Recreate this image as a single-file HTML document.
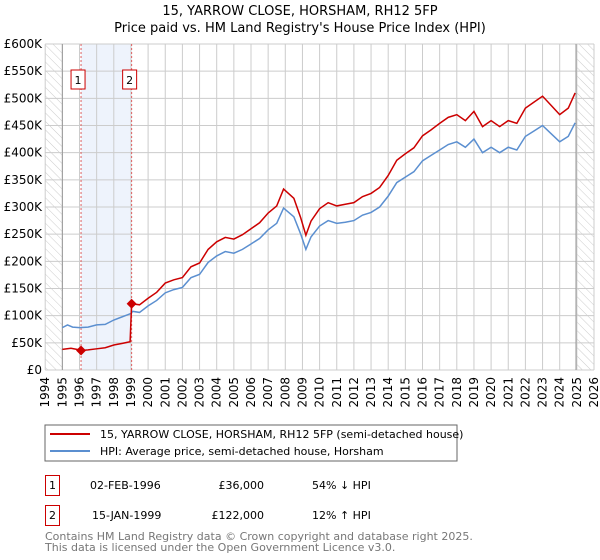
<!DOCTYPE html>
<html><head><meta charset="utf-8"><style>
body{margin:0;background:#fff;font-family:"DejaVu Sans","Liberation Sans",sans-serif}
svg{display:block}
text{font-family:"DejaVu Sans","Liberation Sans",sans-serif}
</style></head><body>
<svg id="c" width="600" height="560">
<defs><pattern id="hatch" width="6" height="6" patternUnits="userSpaceOnUse" patternTransform="rotate(-45)"><line x1="0" y1="0" x2="0" y2="6" stroke="#ccc" stroke-width="1"/></pattern></defs>
<text x="300" y="15" text-anchor="middle" font-size="13">15, YARROW CLOSE, HORSHAM, RH12 5FP</text>
<text x="300" y="32" text-anchor="middle" font-size="13">Price paid vs. HM Land Registry's House Price Index (HPI)</text>
<g id="grid"></g><g id="marks"></g>
<rect x="45" y="425" width="412" height="36" fill="#fff" stroke="#666"/>
<line x1="50" y1="434" x2="90" y2="434" stroke="#cc0000" stroke-width="2"/>
<text x="100" y="438" font-size="11">15, YARROW CLOSE, HORSHAM, RH12 5FP (semi-detached house)</text>
<line x1="50" y1="451" x2="90" y2="451" stroke="#5b8fd0" stroke-width="2"/>
<text x="100" y="455" font-size="11">HPI: Average price, semi-detached house, Horsham</text>
<g font-size="11">
<rect x="45.5" y="475.5" width="14" height="20" fill="none" stroke="#cc0000"/><text x="52.5" y="489" text-anchor="middle">1</text>
<text x="90" y="489">02-FEB-1996</text><text x="264" y="489" text-anchor="end">£36,000</text><text x="312" y="489">54% ↓ HPI</text></g>
<g font-size="11">
<rect x="45.5" y="505.5" width="14" height="20" fill="none" stroke="#cc0000"/><text x="52.5" y="519" text-anchor="middle">2</text>
<text x="92" y="519">15-JAN-1999</text><text x="264" y="519" text-anchor="end">£122,000</text><text x="312" y="519">12% ↑ HPI</text></g>
<text x="45" y="540" font-size="11" fill="#777">Contains HM Land Registry data © Crown copyright and database right 2025.</text>
<text x="45" y="551" font-size="11" fill="#777">This data is licensed under the Open Government Licence v3.0.</text>
</svg>
<script>
const yearTicks=[1994,1995,1996,1997,1998,1999,2000,2001,2002,2003,2004,2005,2006,2007,2008,2009,2010,2011,2012,2013,2014,2015,2016,2017,2018,2019,2020,2021,2022,2023,2024,2025,2026];
const priceTicks=[0,50,100,150,200,250,300,350,400,450,500,550,600];
const priceLabels=["£0","£50K","£100K","£150K","£200K","£250K","£300K","£350K","£400K","£450K","£500K","£550K","£600K"];
const hpiT=[1995,1995.3,1995.6,1996,1996.5,1997,1997.5,1998,1998.5,1999,1999.1,1999.5,2000,2000.5,2001,2001.5,2002,2002.5,2003,2003.5,2004,2004.5,2005,2005.5,2006,2006.5,2007,2007.5,2007.9,2008.5,2008.9,2009.2,2009.5,2010,2010.5,2011,2011.5,2012,2012.5,2013,2013.5,2014,2014.5,2015,2015.5,2016,2016.5,2017,2017.5,2018,2018.5,2019,2019.5,2020,2020.5,2021,2021.5,2022,2022.5,2023,2023.5,2024,2024.5,2024.9];
const hpiV=[78,83,79,78,79,83,84,92,98,104,108,106,118,128,142,148,152,170,176,198,210,218,215,222,232,242,258,270,298,282,250,222,245,265,275,270,272,275,285,290,300,320,345,355,365,385,395,405,415,420,410,425,400,410,400,410,405,430,440,450,435,420,430,455];
const propT=[1995,1995.5,1996,1996.09,1996.5,1997,1997.5,1998,1998.5,1998.95,1999.04,1999.5,2000,2000.5,2001,2001.5,2002,2002.5,2003,2003.5,2004,2004.5,2005,2005.5,2006,2006.5,2007,2007.5,2007.9,2008.5,2008.9,2009.2,2009.5,2010,2010.5,2011,2011.5,2012,2012.5,2013,2013.5,2014,2014.5,2015,2015.5,2016,2016.5,2017,2017.5,2018,2018.5,2019,2019.5,2020,2020.5,2021,2021.5,2022,2022.5,2023,2023.5,2024,2024.5,2024.9];
const propV=[38,40,37,36,37,39,41,46,49,52,122,120,132,143,160,166,170,190,197,222,236,244,241,249,260,271,289,302,333,316,280,248,274,297,308,302,305,308,319,325,336,358,386,398,409,431,442,454,465,470,459,476,448,459,448,459,454,482,493,504,487,470,482,510];
const sales=[[1996.09,36],[1999.04,122]];
const X=y=>45.2+(y-1994)*17.15, Y=v=>370-v*0.5433;
const ns="http://www.w3.org/2000/svg";
function mk(p,t,a){const e=document.createElementNS(ns,t);for(const k in a)e.setAttribute(k,a[k]);p.appendChild(e);return e;}
const g=document.getElementById('grid'),m=document.getElementById('marks');
mk(g,'rect',{x:X(1994),y:Y(600),width:X(1995)-X(1994),height:Y(0)-Y(600),fill:'url(#hatch)'});
mk(g,'rect',{x:X(2024.95),y:Y(600),width:X(2026)-X(2024.95),height:Y(0)-Y(600),fill:'url(#hatch)'});
mk(g,'rect',{x:X(sales[0][0]),y:Y(600),width:X(sales[1][0])-X(sales[0][0]),height:Y(0)-Y(600),fill:'#eef3fc'});
priceTicks.forEach((v,i)=>{mk(g,'line',{x1:X(1994),x2:X(2026),y1:Y(v),y2:Y(v),stroke:'#ccc'});
const t=mk(g,'text',{x:42,y:Y(v)+4,'text-anchor':'end','font-size':12});t.textContent=priceLabels[i];

});
yearTicks.forEach(yr=>{mk(g,'line',{x1:X(yr),x2:X(yr),y1:Y(600),y2:Y(0),stroke:'#ccc'});
const t=mk(g,'text',{transform:`translate(${X(yr)+4},${Y(0)+7}) rotate(-90)`,'text-anchor':'end','font-size':12});t.textContent=yr;

});
mk(g,'line',{x1:X(1995),x2:X(1995),y1:Y(600),y2:Y(0),stroke:'#999'});
mk(g,'line',{x1:X(2024.95),x2:X(2024.95),y1:Y(600),y2:Y(0),stroke:'#999'});
sales.forEach((s,i)=>{mk(m,'line',{x1:X(s[0]),x2:X(s[0]),y1:Y(600),y2:Y(0),stroke:'#e06060','stroke-dasharray':'2,2'});
const bx=X(s[0])-(i==0?10:9);
mk(m,'rect',{x:bx,y:70,width:14,height:19,fill:'#fff',stroke:'#cc0000'});
const t=mk(m,'text',{x:bx+7,y:84,'text-anchor':'middle','font-size':11});t.textContent=i+1;

});
const hp=mk(m,'polyline',{points:hpiT.map((t,i)=>X(t)+','+Y(hpiV[i])).join(' '),fill:'none',stroke:'#5b8fd0','stroke-width':1.5});


const pp=mk(m,'polyline',{points:propT.map((t,i)=>X(t)+','+Y(propV[i])).join(' '),fill:'none',stroke:'#cc0000','stroke-width':1.5});


sales.forEach(s=>{const d=mk(m,'path',{d:`M${X(s[0])},${Y(s[1])-5}l5,5l-5,5l-5,-5z`,fill:'#cc0000'});

});
</script>
</body></html>
